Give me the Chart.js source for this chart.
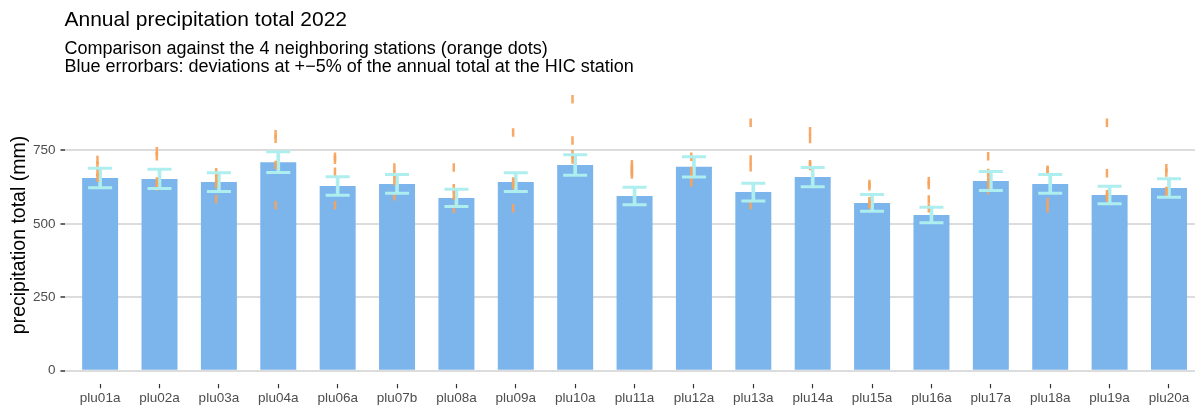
<!DOCTYPE html>
<html>
<head>
<meta charset="utf-8">
<script src="https://cdn.jsdelivr.net/npm/chart.js@4/dist/chart.umd.min.js"></script>
<style>
  html, body { margin: 0; padding: 0; background: #ffffff; overflow: hidden; }
  canvas { display: block; }
</style>
</head>
<body>
<canvas id="chart" width="1195" height="405"></canvas>
<script>
// ---------------- data ----------------
const CATEGORIES = ['plu01a','plu02a','plu03a','plu04a','plu06a','plu07b','plu08a','plu09a','plu10a',
                    'plu11a','plu12a','plu13a','plu14a','plu15a','plu16a','plu17a','plu18a','plu19a','plu20a'];

// annual total at the HIC station (mm)
const TOTALS = [656, 653, 642, 710, 629, 636, 588, 642, 700, 595, 694, 608, 659, 571, 530, 646, 636, 598, 622];

// annual totals at the 4 neighbouring stations (mm), one row per station
const NEIGHBORS = [
  [717, 698, 676, 657],
  [747, 730, 644, 627],
  [676, 656, 636, 584],
  [805, 790, 700, 563],
  [728, 718, 677, 563],
  [692, 669, 646, 594],
  [692, 621, 596, 551],
  [811, 644, 632, 553],
  [924, 784, 737, 719],
  [703, 690, 677, 668],
  [728, 680, 656, 641],
  [844, 719, 693, 564],
  [815, 789, 703, 697],
  [636, 628, 577, 566],
  [645, 632, 583, 553],
  [730, 673, 644, 615],
  [684, 680, 574, 553],
  [844, 672, 601, 590],
  [689, 675, 612, 609]
];

const Y_TICKS = [0, 250, 500, 750];
const ERROR_FRACTION = 0.05;

const TITLE = 'Annual precipitation total 2022';
const SUBTITLE = ['Comparison against the 4 neighboring stations (orange dots)',
                  'Blue errorbars: deviations at +\u22125% of the annual total at the HIC station'];
const Y_LABEL = 'precipitation total (mm)';

// ---------------- styling ----------------
const FONT = "'Liberation Sans', Arial, Helvetica, sans-serif";
Chart.defaults.font.family = FONT;

const BAR_COLOR = '#7cb5ec';
const ERR_COLOR = '#aeeeee';
const DOT_COLOR = 'rgba(247,163,92,0.95)';
const DASH_NUDGE = 0.045;      // neighbour marks sit slightly left of the bar centre

const xs = CATEGORIES.map((_, i) => i + 1);
const allValues = NEIGHBORS.flat().concat(TOTALS.map(v => v * (1 + ERROR_FRACTION)));
const dataMax = Math.max(...allValues);
const yMin = -0.05 * dataMax;
const yMax = 1.05 * dataMax;

const barData  = xs.map((x, i) => ({ x, y: TOTALS[i] }));
const stemData = xs.map((x, i) => ({ x, y: [TOTALS[i] * (1 - ERROR_FRACTION), TOTALS[i] * (1 + ERROR_FRACTION)] }));
const capData  = xs.flatMap((x, i) => [
  { x, y: TOTALS[i] * (1 - ERROR_FRACTION) },
  { x, y: TOTALS[i] * (1 + ERROR_FRACTION) }
]);
const dotData  = xs.flatMap((x, i) => NEIGHBORS[i].map(v => ({ x: x - DASH_NUDGE, y: v })));

new Chart(document.getElementById('chart'), {
  type: 'bar',
  data: {
    datasets: [
      { type: 'bar', label: 'HIC total', data: barData, backgroundColor: BAR_COLOR,
        borderWidth: 0, barPercentage: 1, categoryPercentage: 0.606, grouped: false, order: 3 },
      { type: 'bar', label: 'error stem', data: stemData, backgroundColor: ERR_COLOR,
        borderWidth: 0, barThickness: 3, grouped: false, order: 2 },
      { type: 'line', label: 'neighbours', data: dotData, showLine: false,
        pointStyle: 'line', pointRotation: 90, pointRadius: 4.25, pointBorderWidth: 2.5,
        pointBorderColor: DOT_COLOR, pointBackgroundColor: DOT_COLOR, order: 1 },
      { type: 'line', label: 'error caps', data: capData, showLine: false,
        pointStyle: 'line', pointRadius: 12, pointBorderWidth: 3,
        pointBorderColor: ERR_COLOR, pointBackgroundColor: ERR_COLOR, order: 0 }
    ]
  },
  options: {
    responsive: false,
    animation: false,
    events: [],
    layout: { padding: 0, autoPadding: false },
    scales: {
      x: {
        type: 'linear',
        offset: false,
        min: 0.4,
        max: CATEGORIES.length + 0.438,
        afterBuildTicks: s => { s.ticks = xs.map(v => ({ value: v })); },
        afterFit: s => { s.height = 20.7; s.paddingLeft = 0; s.paddingRight = 0; },
        grid: { offset: false, drawOnChartArea: false, drawTicks: true, tickLength: 4, tickColor: '#333333', tickWidth: 1.2 },
        border: { display: false },
        ticks: {
          autoSkip: false, maxRotation: 0, minRotation: 0, padding: 1.6,
          color: '#4d4d4d', font: { size: 13.5 },
          callback: v => CATEGORIES[v - 1] ?? ''
        }
      },
      y: {
        min: yMin,
        max: yMax,
        afterBuildTicks: s => { s.ticks = Y_TICKS.map(v => ({ value: v })); },
        afterFit: s => { s.width = 64.5; },
        grid: { color: '#dcdcdc', lineWidth: 2, drawTicks: true, tickLength: 4, tickColor: '#333333', tickWidth: 1.5 },
        border: { display: false },
        ticks: { padding: 5, color: '#4d4d4d', font: { size: 13.5 } },
        title: { display: true, text: Y_LABEL, color: '#000000', font: { size: 19.5, lineHeight: 1.2 },
                 padding: { top: 8.2, bottom: 0 } }
      }
    },
    plugins: {
      legend: { display: false },
      tooltip: { enabled: false },
      title: {
        display: true, text: TITLE, align: 'start', fullSize: false, color: '#000000',
        font: { size: 21, weight: 'normal', lineHeight: 1.2 },
        padding: { top: 7.4, bottom: 0 }
      },
      subtitle: {
        display: true, text: SUBTITLE, align: 'start', fullSize: false, color: '#000000',
        font: { size: 18, weight: 'normal', lineHeight: '18.5px' },
        padding: { top: 6.91, bottom: 9.19 }
      }
    }
  }
});
</script>
</body>
</html>
